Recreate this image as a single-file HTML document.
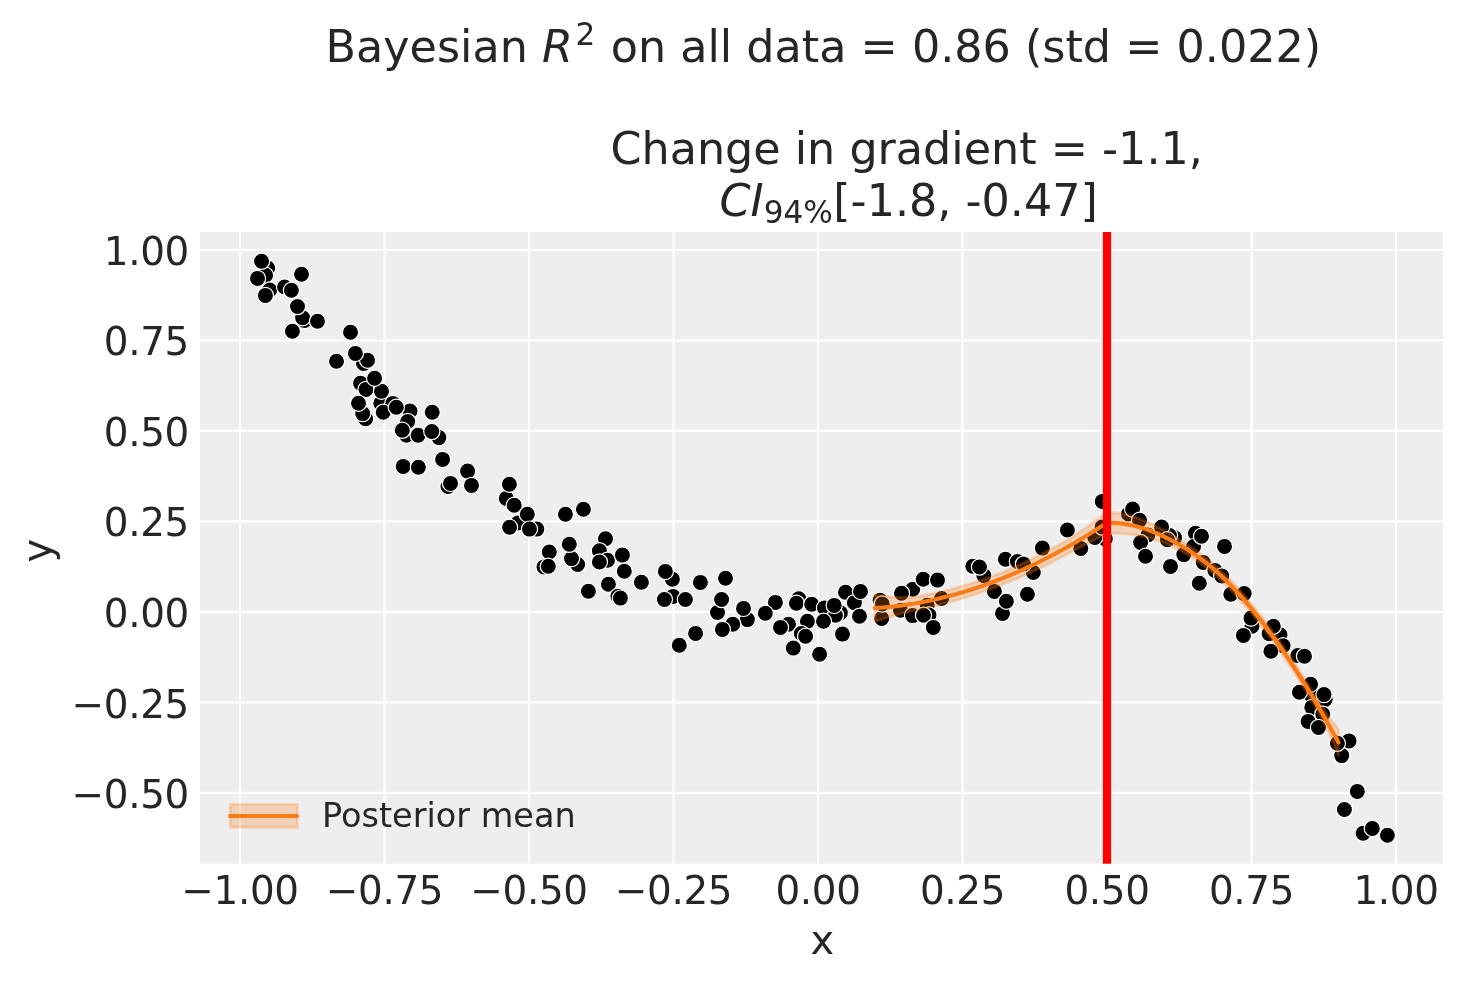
<!DOCTYPE html><html><head><meta charset="utf-8"><title>Bayesian R2 plot</title><style>
html,body{margin:0;padding:0;background:#fff;width:1463px;height:983px;overflow:hidden}
svg{display:block;will-change:transform}
text{font-family:"DejaVu Sans", "Liberation Sans", sans-serif;fill:#262626}
</style></head><body>
<svg width="1463" height="983" viewBox="0 0 1463 983">
<rect width="1463" height="983" fill="#ffffff"/>
<rect x="200" y="232" width="1243" height="631.7" fill="#eeeeee"/>
<path d="M240 232V863.7M384.5 232V863.7M529 232V863.7M673.5 232V863.7M818 232V863.7M962.5 232V863.7M1107 232V863.7M1251.5 232V863.7M1396 232V863.7M200 250H1443M200 340.5H1443M200 430.9H1443M200 521.4H1443M200 611.9H1443M200 702.4H1443M200 792.8H1443" stroke="#ffffff" stroke-width="2.2" fill="none"/>
<g fill="#000" stroke="#fff" stroke-width="1.2"><circle cx="1174.6" cy="537.7" r="8.1"/><circle cx="267.7" cy="268" r="8.1"/><circle cx="265.6" cy="275.3" r="8.1"/><circle cx="269.7" cy="290" r="8.1"/><circle cx="284.6" cy="287" r="8.1"/><circle cx="304.6" cy="320.5" r="8.1"/><circle cx="363.5" cy="363.4" r="8.1"/><circle cx="360.5" cy="383.2" r="8.1"/><circle cx="380.8" cy="403.4" r="8.1"/><circle cx="392.8" cy="403.4" r="8.1"/><circle cx="365.6" cy="418.7" r="8.1"/><circle cx="410" cy="411" r="8.1"/><circle cx="406.5" cy="435.2" r="8.1"/><circle cx="438.9" cy="437.6" r="8.1"/><circle cx="506.3" cy="498.4" r="8.1"/><circle cx="517.9" cy="523" r="8.1"/><circle cx="881.7" cy="618.4" r="8.1"/><circle cx="983.8" cy="575.6" r="8.1"/><circle cx="1033.3" cy="572.5" r="8.1"/><circle cx="1002.5" cy="613.4" r="8.1"/><circle cx="1105.3" cy="538.9" r="8.1"/><circle cx="1128.4" cy="514" r="8.1"/><circle cx="1147.9" cy="535" r="8.1"/><circle cx="1169.5" cy="535.5" r="8.1"/><circle cx="1310.6" cy="694.6" r="8.1"/><circle cx="257.5" cy="278.4" r="8.1"/><circle cx="265.4" cy="295.4" r="8.1"/><circle cx="291.4" cy="290.3" r="8.1"/><circle cx="301.5" cy="274.3" r="8.1"/><circle cx="302.6" cy="317.7" r="8.1"/><circle cx="317.5" cy="321.3" r="8.1"/><circle cx="292.4" cy="331.3" r="8.1"/><circle cx="350.5" cy="332.2" r="8.1"/><circle cx="336.5" cy="361.2" r="8.1"/><circle cx="367.6" cy="360.2" r="8.1"/><circle cx="366" cy="389.4" r="8.1"/><circle cx="381.5" cy="391.2" r="8.1"/><circle cx="383.2" cy="412.2" r="8.1"/><circle cx="362.7" cy="413.6" r="8.1"/><circle cx="407.7" cy="421.5" r="8.1"/><circle cx="418.1" cy="435.2" r="8.1"/><circle cx="432.2" cy="412.2" r="8.1"/><circle cx="431.8" cy="431.5" r="8.1"/><circle cx="442.6" cy="459.4" r="8.1"/><circle cx="403.2" cy="466.4" r="8.1"/><circle cx="418.4" cy="467.2" r="8.1"/><circle cx="448" cy="486.5" r="8.1"/><circle cx="450.5" cy="483.4" r="8.1"/><circle cx="467.6" cy="471.1" r="8.1"/><circle cx="471.5" cy="485.4" r="8.1"/><circle cx="509.4" cy="484.2" r="8.1"/><circle cx="514.2" cy="505.3" r="8.1"/><circle cx="527.3" cy="514.2" r="8.1"/><circle cx="509.6" cy="527.3" r="8.1"/><circle cx="536.8" cy="529.1" r="8.1"/><circle cx="529.5" cy="529.1" r="8.1"/><circle cx="565.4" cy="514.2" r="8.1"/><circle cx="583.4" cy="509.3" r="8.1"/><circle cx="605.5" cy="538.8" r="8.1"/><circle cx="549.3" cy="552" r="8.1"/><circle cx="599.4" cy="550.7" r="8.1"/><circle cx="577.6" cy="564.5" r="8.1"/><circle cx="571.5" cy="558.6" r="8.1"/><circle cx="607.5" cy="560.2" r="8.1"/><circle cx="599.4" cy="562" r="8.1"/><circle cx="622.4" cy="555.1" r="8.1"/><circle cx="544" cy="566.9" r="8.1"/><circle cx="548.3" cy="566.3" r="8.1"/><circle cx="624.3" cy="571.2" r="8.1"/><circle cx="641.4" cy="582.2" r="8.1"/><circle cx="608.4" cy="584.3" r="8.1"/><circle cx="588.4" cy="591.3" r="8.1"/><circle cx="617.9" cy="596.2" r="8.1"/><circle cx="620.4" cy="598.1" r="8.1"/><circle cx="672.4" cy="579.3" r="8.1"/><circle cx="665.4" cy="571.4" r="8.1"/><circle cx="700.4" cy="582.4" r="8.1"/><circle cx="725.5" cy="578.3" r="8.1"/><circle cx="673" cy="596.4" r="8.1"/><circle cx="664.4" cy="599.5" r="8.1"/><circle cx="685.4" cy="599.5" r="8.1"/><circle cx="717.5" cy="612.5" r="8.1"/><circle cx="721.6" cy="599.5" r="8.1"/><circle cx="747.4" cy="619.6" r="8.1"/><circle cx="743.5" cy="608.4" r="8.1"/><circle cx="732.8" cy="624.2" r="8.1"/><circle cx="722.4" cy="629.4" r="8.1"/><circle cx="695.6" cy="633.4" r="8.1"/><circle cx="679.3" cy="645.2" r="8.1"/><circle cx="775.4" cy="602.4" r="8.1"/><circle cx="765.3" cy="613.3" r="8.1"/><circle cx="798.8" cy="598.7" r="8.1"/><circle cx="796.4" cy="603.2" r="8.1"/><circle cx="811.7" cy="604.2" r="8.1"/><circle cx="824.5" cy="607.9" r="8.1"/><circle cx="840.4" cy="612.7" r="8.1"/><circle cx="835.5" cy="615.2" r="8.1"/><circle cx="834.2" cy="605.4" r="8.1"/><circle cx="845.5" cy="592.2" r="8.1"/><circle cx="854.4" cy="602.7" r="8.1"/><circle cx="860.5" cy="591.4" r="8.1"/><circle cx="859.5" cy="616.2" r="8.1"/><circle cx="788.5" cy="624.3" r="8.1"/><circle cx="780.5" cy="627.4" r="8.1"/><circle cx="807.4" cy="621.3" r="8.1"/><circle cx="801.3" cy="633.5" r="8.1"/><circle cx="805.6" cy="636.3" r="8.1"/><circle cx="823.5" cy="621.3" r="8.1"/><circle cx="842.5" cy="634.1" r="8.1"/><circle cx="793.3" cy="648.1" r="8.1"/><circle cx="819.6" cy="654.2" r="8.1"/><circle cx="880.1" cy="600.3" r="8.1"/><circle cx="882.2" cy="604" r="8.1"/><circle cx="912.7" cy="589.3" r="8.1"/><circle cx="901.5" cy="593.2" r="8.1"/><circle cx="923.2" cy="579.3" r="8.1"/><circle cx="937.5" cy="580.1" r="8.1"/><circle cx="900.5" cy="610.3" r="8.1"/><circle cx="912.5" cy="615.6" r="8.1"/><circle cx="927.2" cy="605.2" r="8.1"/><circle cx="941.6" cy="598.5" r="8.1"/><circle cx="929" cy="615" r="8.1"/><circle cx="923.5" cy="615.2" r="8.1"/><circle cx="933.3" cy="627.4" r="8.1"/><circle cx="972.8" cy="566.2" r="8.1"/><circle cx="979.5" cy="567" r="8.1"/><circle cx="1005.4" cy="559.3" r="8.1"/><circle cx="1017.4" cy="561.5" r="8.1"/><circle cx="1023.5" cy="564" r="8.1"/><circle cx="1042.4" cy="548.1" r="8.1"/><circle cx="1067.4" cy="530" r="8.1"/><circle cx="994.4" cy="591.4" r="8.1"/><circle cx="1006.4" cy="601.2" r="8.1"/><circle cx="1027.4" cy="594.2" r="8.1"/><circle cx="1080.8" cy="548.4" r="8.1"/><circle cx="1094.8" cy="537.4" r="8.1"/><circle cx="1102.1" cy="527" r="8.1"/><circle cx="1102.2" cy="501.4" r="8.1"/><circle cx="1132.6" cy="509.1" r="8.1"/><circle cx="1139.6" cy="520.3" r="8.1"/><circle cx="1140.6" cy="542.5" r="8.1"/><circle cx="1145.5" cy="556.3" r="8.1"/><circle cx="1161.6" cy="527" r="8.1"/><circle cx="1167.4" cy="539.8" r="8.1"/><circle cx="1170.5" cy="566.4" r="8.1"/><circle cx="1195.4" cy="533.2" r="8.1"/><circle cx="1193.6" cy="546.6" r="8.1"/><circle cx="1183.8" cy="554.6" r="8.1"/><circle cx="1224.5" cy="546.4" r="8.1"/><circle cx="1203.3" cy="562.5" r="8.1"/><circle cx="1214.9" cy="570.4" r="8.1"/><circle cx="1221.7" cy="575.9" r="8.1"/><circle cx="1199.3" cy="583.3" r="8.1"/><circle cx="1230.8" cy="594.2" r="8.1"/><circle cx="1244.2" cy="593.6" r="8.1"/><circle cx="1252" cy="626.3" r="8.1"/><circle cx="1251" cy="618.1" r="8.1"/><circle cx="1243.4" cy="635.4" r="8.1"/><circle cx="1269.1" cy="633.6" r="8.1"/><circle cx="1280" cy="634.8" r="8.1"/><circle cx="1273.3" cy="626.3" r="8.1"/><circle cx="1283.1" cy="645.8" r="8.1"/><circle cx="1270.9" cy="651.3" r="8.1"/><circle cx="1297.8" cy="655.6" r="8.1"/><circle cx="1304.5" cy="656.2" r="8.1"/><circle cx="1310.6" cy="684.2" r="8.1"/><circle cx="1299.4" cy="692.2" r="8.1"/><circle cx="1325.2" cy="699.5" r="8.1"/><circle cx="1324" cy="694.6" r="8.1"/><circle cx="1311.8" cy="707.4" r="8.1"/><circle cx="1322.8" cy="714.2" r="8.1"/><circle cx="1308.1" cy="721.4" r="8.1"/><circle cx="1318.5" cy="727.5" r="8.1"/><circle cx="1349" cy="740.9" r="8.1"/><circle cx="1341.7" cy="755.6" r="8.1"/><circle cx="1357.5" cy="791" r="8.1"/><circle cx="1344.5" cy="809" r="8.1"/><circle cx="1357.3" cy="791.4" r="8.1"/><circle cx="1344.4" cy="809.5" r="8.1"/><circle cx="1363.1" cy="833.3" r="8.1"/><circle cx="1372.3" cy="828.4" r="8.1"/><circle cx="1387.4" cy="835.3" r="8.1"/><circle cx="261.6" cy="261.3" r="8.1"/><circle cx="297.5" cy="306.5" r="8.1"/><circle cx="355.4" cy="353.4" r="8.1"/><circle cx="374.6" cy="378.2" r="8.1"/><circle cx="358.5" cy="403.2" r="8.1"/><circle cx="396.3" cy="407.3" r="8.1"/><circle cx="402.3" cy="430.3" r="8.1"/><circle cx="569.3" cy="544.3" r="8.1"/><circle cx="1201.5" cy="536.3" r="8.1"/><circle cx="1337.4" cy="743.3" r="8.1"/></g>
<path d="M874.9 594.6L876.9 594.9L878.9 595.3L880.9 595.6L882.9 596L884.9 596.3L886.9 596.5L888.9 596.7L890.9 596.9L892.9 597L894.9 597.2L896.9 597.2L898.9 597.3L900.9 597.3L902.9 597.4L904.9 597.4L906.9 597.3L908.9 597.1L910.9 597L912.9 596.8L914.9 596.6L916.9 596.5L918.9 596.3L920.9 596L922.9 595.6L924.9 595.2L926.9 594.9L928.9 594.5L930.9 594.1L932.9 593.6L934.9 593.2L936.9 592.8L938.9 592.3L940.9 591.8L942.9 591.4L944.9 590.9L946.9 590.4L948.9 589.9L950.9 589.4L952.9 588.8L954.9 588.3L956.9 587.7L958.9 587.2L960.9 586.6L962.9 586L964.9 585.4L966.9 584.8L968.9 584.2L970.9 583.6L972.9 582.9L974.9 582.3L976.9 581.6L978.9 581L980.9 580.3L982.9 579.6L984.9 578.9L986.9 578.2L988.9 577.5L990.9 576.7L992.9 576L994.9 575.2L996.9 574.5L998.9 573.7L1000.9 572.9L1002.9 572.1L1004.9 571.2L1006.9 570.4L1008.9 569.5L1010.9 568.6L1012.9 567.8L1014.9 566.9L1016.9 566L1018.9 565L1020.9 564.1L1022.9 563.2L1024.9 562.2L1026.9 561.3L1028.9 560.3L1030.9 559.3L1032.9 558.4L1034.9 557.4L1036.9 556.4L1038.9 555.4L1040.9 554.4L1042.9 553.3L1044.9 552.3L1046.9 551.3L1048.9 550.2L1050.9 549.1L1052.9 548.1L1054.9 547L1056.9 545.9L1058.9 544.8L1060.9 543.7L1062.9 542.5L1064.9 541.4L1066.9 540.3L1068.9 539.1L1070.9 537.9L1072.9 536.6L1074.9 535.3L1076.9 534L1078.9 532.6L1080.9 531.3L1082.9 530L1084.9 528.6L1086.9 527.2L1088.9 525.9L1090.9 524.4L1092.9 523L1094.9 521.5L1096.9 519.9L1098.9 518.4L1100.9 516.9L1102.9 515.4L1104.9 514L1106.9 512.6L1107 512.5L1109 512.4L1111 512.3L1113 512.5L1115 512.7L1117 512.9L1119 513.2L1121 513.5L1123 513.8L1125 514.2L1127 514.7L1129 515.2L1131 515.8L1133 516.5L1135 517.2L1137 517.9L1139 518.6L1141 519.4L1143 520.2L1145 521L1147 521.9L1149 522.8L1151 523.7L1153 524.7L1155 525.6L1157 526.6L1159 527.6L1161 528.7L1163 529.7L1165 530.8L1167 532L1169 533.1L1171 534.3L1173 535.6L1175 536.8L1177 538.1L1179 539.4L1181 540.7L1183 541.9L1185 543.1L1187 544.4L1189 545.7L1191 547L1193 548.4L1195 549.8L1197 551.2L1199 552.6L1201 554.1L1203 555.6L1205 557.1L1207 558.7L1209 560.3L1211 561.9L1213 563.6L1215 565.3L1217 567.1L1219 568.9L1221 570.7L1223 572.6L1225 574.5L1227 576.5L1229 578.5L1231 580.5L1233 582.6L1235 584.7L1237 586.9L1239 589.1L1241 591.4L1243 593.7L1245 596L1247 598.3L1249 600.7L1251 603.1L1253 605.6L1255 608.1L1257 610.6L1259 613.1L1261 615.7L1263 618.3L1265 620.9L1267 623.6L1269 626.3L1271 629L1273 631.7L1275 634.5L1277 637.3L1279 640.1L1281 643L1283 645.9L1285 648.8L1287 651.8L1289 654.7L1291 657.7L1293 660.8L1295 663.8L1297 666.9L1299 670.1L1301 673.2L1303 676.3L1305 679.4L1307 682.6L1309 685.8L1311 689L1313 692.3L1315 695.6L1317 698.9L1319 702.1L1321 705.1L1323 708.1L1325 711.2L1327 714.3L1329 717.5L1331 720.3L1333 722.7L1335 725.1L1337 727.6L1338.4 729.4L1338.4 755.4L1337 752L1335 747.1L1333 742.3L1331 737.4L1329 733.1L1327 729.1L1325 725.1L1323 721.2L1321 717.3L1319 713.5L1317 709.8L1315 706.4L1313 702.9L1311 699.6L1309 696.2L1307 692.9L1305 689.6L1303 686.3L1301 683L1299 679.9L1297 676.7L1295 673.6L1293 670.6L1291 667.5L1289 664.5L1287 661.6L1285 658.6L1283 655.7L1281 652.8L1279 649.9L1277 647.1L1275 644.3L1273 641.5L1271 638.8L1269 636.1L1267 633.4L1265 630.7L1263 628.1L1261 625.5L1259 622.9L1257 620.4L1255 617.9L1253 615.4L1251 612.9L1249 610.5L1247 608.1L1245 605.8L1243 603.5L1241 601.2L1239 598.9L1237 596.7L1235 594.5L1233 592.4L1231 590.3L1229 588.3L1227 586.3L1225 584.3L1223 582.4L1221 580.5L1219 578.7L1217 576.9L1215 575.1L1213 573.4L1211 571.7L1209 570.1L1207 568.5L1205 566.9L1203 565.4L1201 563.9L1199 562.4L1197 561L1195 559.6L1193 558.2L1191 556.9L1189 555.6L1187 554.3L1185 553.1L1183 551.9L1181 550.7L1179 549.7L1177 548.7L1175 547.7L1173 546.8L1171 545.9L1169 545L1167 544.1L1165 543.3L1163 542.5L1161 541.7L1159 541L1157 540.3L1155 539.6L1153 539L1151 538.3L1149 537.8L1147 537.3L1145 536.8L1143 536.4L1141 536L1139 535.6L1137 535.3L1135 535L1133 534.7L1131 534.4L1129 534.2L1127 534.1L1125 533.9L1123 533.7L1121 533.5L1119 533.4L1117 533.3L1115 533.3L1113 533.3L1111 533.3L1109 533.2L1107 533.1L1106.9 533.1L1104.9 534.3L1102.9 535.5L1100.9 536.6L1098.9 537.6L1096.9 538.7L1094.9 539.7L1092.9 540.7L1090.9 541.7L1088.9 542.7L1086.9 543.8L1084.9 544.8L1082.9 545.9L1080.9 546.9L1078.9 548L1076.9 549L1074.9 550L1072.9 551L1070.9 552L1068.9 553.1L1066.9 554.2L1064.9 555.3L1062.9 556.4L1060.9 557.4L1058.9 558.5L1056.9 559.6L1054.9 560.6L1052.9 561.6L1050.9 562.7L1048.9 563.7L1046.9 564.7L1044.9 565.7L1042.9 566.7L1040.9 567.6L1038.9 568.6L1036.9 569.6L1034.9 570.5L1032.9 571.4L1030.9 572.4L1028.9 573.3L1026.9 574.2L1024.9 575.1L1022.9 575.9L1020.9 576.8L1018.9 577.7L1016.9 578.5L1014.9 579.4L1012.9 580.2L1010.9 581L1008.9 581.8L1006.9 582.6L1004.9 583.4L1002.9 584.2L1000.9 584.9L998.9 585.7L996.9 586.5L994.9 587.3L992.9 588L990.9 588.8L988.9 589.6L986.9 590.3L984.9 591L982.9 591.7L980.9 592.4L978.9 593.1L976.9 593.8L974.9 594.5L972.9 595.2L970.9 595.8L968.9 596.5L966.9 597.1L964.9 597.7L962.9 598.3L960.9 598.9L958.9 599.5L956.9 600.1L954.9 600.7L952.9 601.2L950.9 601.8L948.9 602.3L946.9 602.8L944.9 603.4L942.9 603.9L940.9 604.4L938.9 604.9L936.9 605.3L934.9 605.8L932.9 606.3L930.9 606.7L928.9 607.1L926.9 607.6L924.9 608L922.9 608.4L920.9 608.8L918.9 609.2L916.9 609.8L914.9 610.3L912.9 610.8L910.9 611.2L908.9 611.7L906.9 612.2L904.9 612.6L902.9 613.2L900.9 613.8L898.9 614.4L896.9 614.9L894.9 615.5L892.9 616L890.9 616.6L888.9 617.2L886.9 617.8L884.9 618.4L882.9 619L880.9 619.7L878.9 620.3L876.9 620.9L874.9 621.6Z" fill="#fa7c17" fill-opacity="0.25" stroke="#fa7c17" stroke-opacity="0.25" stroke-width="2.9" stroke-linejoin="round"/>
<path d="M874.9 608.1L876.9 607.9L878.9 607.8L880.9 607.7L882.9 607.5L884.9 607.3L886.9 607.1L888.9 607L890.9 606.8L892.9 606.5L894.9 606.3L896.9 606.1L898.9 605.8L900.9 605.6L902.9 605.3L904.9 605L906.9 604.7L908.9 604.4L910.9 604.1L912.9 603.8L914.9 603.5L916.9 603.1L918.9 602.8L920.9 602.4L922.9 602L924.9 601.6L926.9 601.2L928.9 600.8L930.9 600.4L932.9 599.9L934.9 599.5L936.9 599.1L938.9 598.6L940.9 598.1L942.9 597.6L944.9 597.1L946.9 596.6L948.9 596.1L950.9 595.6L952.9 595L954.9 594.5L956.9 593.9L958.9 593.3L960.9 592.8L962.9 592.2L964.9 591.6L966.9 591L968.9 590.3L970.9 589.7L972.9 589L974.9 588.4L976.9 587.7L978.9 587L980.9 586.4L982.9 585.7L984.9 585L986.9 584.2L988.9 583.5L990.9 582.8L992.9 582L994.9 581.3L996.9 580.5L998.9 579.7L1000.9 578.9L1002.9 578.1L1004.9 577.3L1006.9 576.5L1008.9 575.7L1010.9 574.8L1012.9 574L1014.9 573.1L1016.9 572.2L1018.9 571.4L1020.9 570.5L1022.9 569.6L1024.9 568.7L1026.9 567.7L1028.9 566.8L1030.9 565.9L1032.9 564.9L1034.9 563.9L1036.9 563L1038.9 562L1040.9 561L1042.9 560L1044.9 559L1046.9 558L1048.9 556.9L1050.9 555.9L1052.9 554.8L1054.9 553.8L1056.9 552.7L1058.9 551.6L1060.9 550.5L1062.9 549.5L1064.9 548.3L1066.9 547.2L1068.9 546.1L1070.9 545L1072.9 543.8L1074.9 542.7L1076.9 541.5L1078.9 540.3L1080.9 539.1L1082.9 537.9L1084.9 536.7L1086.9 535.5L1088.9 534.3L1090.9 533.1L1092.9 531.8L1094.9 530.6L1096.9 529.3L1098.9 528L1100.9 526.8L1102.9 525.5L1104.9 524.2L1106.9 522.9L1107 522.8L1109 522.8L1111 522.8L1113 522.9L1115 523L1117 523.1L1119 523.3L1121 523.5L1123 523.8L1125 524.1L1127 524.4L1129 524.7L1131 525.1L1133 525.6L1135 526.1L1137 526.6L1139 527.1L1141 527.7L1143 528.3L1145 528.9L1147 529.6L1149 530.3L1151 531L1153 531.8L1155 532.6L1157 533.4L1159 534.3L1161 535.2L1163 536.1L1165 537.1L1167 538.1L1169 539.1L1171 540.1L1173 541.2L1175 542.3L1177 543.4L1179 544.5L1181 545.7L1183 546.9L1185 548.1L1187 549.4L1189 550.7L1191 552L1193 553.3L1195 554.7L1197 556.1L1199 557.5L1201 559L1203 560.5L1205 562L1207 563.6L1209 565.2L1211 566.8L1213 568.5L1215 570.2L1217 572L1219 573.8L1221 575.6L1223 577.5L1225 579.4L1227 581.4L1229 583.4L1231 585.4L1233 587.5L1235 589.6L1237 591.8L1239 594L1241 596.3L1243 598.6L1245 600.9L1247 603.2L1249 605.6L1251 608L1253 610.5L1255 613L1257 615.5L1259 618L1261 620.6L1263 623.2L1265 625.8L1267 628.5L1269 631.2L1271 633.9L1273 636.6L1275 639.4L1277 642.2L1279 645L1281 647.9L1283 650.8L1285 653.7L1287 656.7L1289 659.6L1291 662.6L1293 665.7L1295 668.7L1297 671.8L1299 675L1301 678.1L1303 681.3L1305 684.5L1307 687.7L1309 691L1311 694.3L1313 697.6L1315 701L1317 704.4L1319 707.8L1321 711.2L1323 714.7L1325 718.2L1327 721.7L1329 725.3L1331 728.9L1333 732.5L1335 736.1L1337 739.8L1338.4 742.4" fill="none" stroke="#fa7c17" stroke-width="4.1" stroke-linecap="round" stroke-linejoin="round"/>
<rect x="1102.9" y="232" width="8.2" height="631.7" fill="#ff0000"/>
<rect x="230.4" y="804.5" width="67" height="22.8" fill="#fa7c17" fill-opacity="0.25" stroke="#fa7c17" stroke-opacity="0.25" stroke-width="2.9"/>
<path d="M230 816H297" stroke="#fa7c17" stroke-width="4.1" stroke-linecap="round"/>
<text x="322" y="826.6" font-size="33.5">Posterior mean</text>
<text x="189" y="265" font-size="38.89" text-anchor="end" letter-spacing="-0.35">1.00</text>
<text x="189" y="354.5" font-size="38.89" text-anchor="end" letter-spacing="-0.35">0.75</text>
<text x="189" y="445.9" font-size="38.89" text-anchor="end" letter-spacing="-0.35">0.50</text>
<text x="189" y="536.2" font-size="38.89" text-anchor="end" letter-spacing="-0.35">0.25</text>
<text x="189" y="626.9" font-size="38.89" text-anchor="end" letter-spacing="-0.35">0.00</text>
<text x="189" y="718.4" font-size="38.89" text-anchor="end" letter-spacing="-0.35">−0.25</text>
<text x="189" y="807.6" font-size="38.89" text-anchor="end" letter-spacing="-0.35">−0.50</text>
<text x="240" y="904.3" font-size="38.89" text-anchor="middle" letter-spacing="-0.35">−1.00</text>
<text x="384.5" y="904.3" font-size="38.89" text-anchor="middle" letter-spacing="-0.35">−0.75</text>
<text x="529" y="904.3" font-size="38.89" text-anchor="middle" letter-spacing="-0.35">−0.50</text>
<text x="673.5" y="904.3" font-size="38.89" text-anchor="middle" letter-spacing="-0.35">−0.25</text>
<text x="818" y="904.3" font-size="38.89" text-anchor="middle" letter-spacing="-0.35">0.00</text>
<text x="962.5" y="904.3" font-size="38.89" text-anchor="middle" letter-spacing="-0.35">0.25</text>
<text x="1107" y="904.3" font-size="38.89" text-anchor="middle" letter-spacing="-0.35">0.50</text>
<text x="1251.5" y="904.3" font-size="38.89" text-anchor="middle" letter-spacing="-0.35">0.75</text>
<text x="1396" y="904.3" font-size="38.89" text-anchor="middle" letter-spacing="-0.35">1.00</text>
<text x="822.3" y="953.5" font-size="40.0" text-anchor="middle">x</text>
<text transform="translate(51.3 550.7) rotate(-90)" font-size="40.0" text-anchor="middle">y</text>
<text x="325.6" y="62.2" font-size="44.44">Bayesian <tspan font-style="italic">R</tspan><tspan font-size="31.1" dy="-17.1" dx="2.7">2</tspan><tspan dy="17.1" dx="1.3"> on all data = 0.86 (std = 0.022)</tspan></text>
<text x="610.5" y="163.6" font-size="44.44">Change in gradient = -1.1,</text>
<text x="719.5" y="216.2" font-size="44.44"><tspan font-style="italic">CI</tspan><tspan font-size="31.1" dy="6.3">94%</tspan><tspan dy="-6.3" dx="0.5">[-1.8, -0.47]</tspan></text>
</svg></body></html>
